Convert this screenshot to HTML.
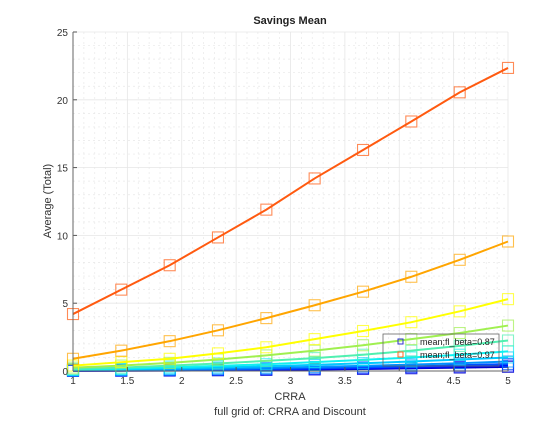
<!DOCTYPE html>
<html><head><meta charset="utf-8"><style>
body{margin:0;background:#fff;width:560px;height:420px;overflow:hidden}
svg{font-family:"Liberation Sans",sans-serif}
</style></head><body>
<svg id="chart" width="560" height="420">
<rect x="0" y="0" width="560" height="420" fill="#fff"/>
<g id="grid"></g>
<g id="series"></g>
<g id="axes"></g>
<text x="290" y="24" text-anchor="middle" font-size="11" font-weight="bold" fill="#222">Savings Mean</text>
<text x="290" y="400" text-anchor="middle" font-size="11" fill="#333">CRRA</text>
<text x="290" y="415" text-anchor="middle" font-size="11" fill="#333">full grid of: CRRA and Discount</text>
<text transform="translate(51,201) rotate(-90)" text-anchor="middle" font-size="11" fill="#333">Average (Total)</text>
<g>
<rect x="383" y="334" width="116" height="32" fill="#fff" fill-opacity="0.0" stroke="#666" stroke-width="0.8"/>
<rect x="398" y="339" width="5" height="5" fill="none" stroke="#3030d0"/>
<text x="420" y="345" font-size="9" fill="#222">mean;fl_beta=0.87</text>
<rect x="398" y="352" width="5" height="5" fill="none" stroke="#ff6a20"/>
<text x="420" y="358" font-size="9" fill="#222">mean;fl_beta=0.97</text>
</g>
</svg>
<script>
const crra=[1,1.444,1.889,2.333,2.778,3.222,3.667,4.111,4.556,5];
const betas=["0.87","0.88","0.89","0.90","0.91","0.92","0.93","0.94","0.95","0.96","0.97"];
const s087=[0.01,0.02,0.03,0.05,0.08,0.11,0.15,0.2,0.25,0.3];
const s088=[0.02,0.03,0.05,0.08,0.11,0.15,0.2,0.26,0.32,0.4];
const s089=[0.03,0.05,0.08,0.11,0.15,0.2,0.27,0.34,0.42,0.52];
const s090=[0.05,0.08,0.12,0.17,0.23,0.3,0.38,0.47,0.57,0.7];
const s091=[0.07,0.12,0.18,0.26,0.35,0.45,0.57,0.7,0.85,1.0];
const s092=[0.1,0.17,0.27,0.38,0.5,0.65,0.82,1.0,1.2,1.45];
const s093=[0.15,0.25,0.4,0.55,0.75,0.95,1.2,1.5,1.85,2.25];
const s094=[0.25,0.4,0.6,0.85,1.15,1.5,1.9,2.35,2.8,3.35];
const s095=[0.4,0.65,0.9,1.3,1.75,2.35,2.95,3.6,4.4,5.3];
const s096=[0.9,1.5,2.2,3.0,3.9,4.85,5.85,6.95,8.2,9.55];
const s097=[4.2,6.0,7.8,9.85,11.9,14.2,16.3,18.4,20.55,22.35];
const allSeries=[s087,s088,s089,s090,s091,s092,s093,s094,s095,s096,s097];
const colors=["#0000c8","#0010ff","#0050ff","#0090ff","#00c8ff","#10f0f0","#50f0b0","#a0f050","#ffff00","#ffa500","#ff5a10"];
const xTicks=[1,1.5,2,2.5,3,3.5,4,4.5,5];
const yTicks=[0,5,10,15,20,25];
const X0=73,X1=508,Y0=371,Y1=32;
const sx=v=>X0+(v-1)/4*(X1-X0);
const sy=v=>Y0-v/25*(Y0-Y1);
const NS="http://www.w3.org/2000/svg";
function mk(t,a,p){const e=document.createElementNS(NS,t);for(const k in a)e.setAttribute(k,a[k]);p.appendChild(e);return e;}
const grid=document.getElementById('grid'),axes=document.getElementById('axes'),ser=document.getElementById('series');
for(let i=0;i<=40;i++){const v=1+i*0.1;if(i%5)mk('line',{x1:sx(v),x2:sx(v),y1:Y1,y2:Y0,stroke:'#e8e8e8','stroke-dasharray':'2,3','stroke-width':0.7},grid);}
for(let v=1;v<25;v++){if(v%5)mk('line',{x1:X0,x2:X1,y1:sy(v),y2:sy(v),stroke:'#e8e8e8','stroke-dasharray':'2,3','stroke-width':0.7},grid);}
xTicks.forEach(v=>{mk('line',{x1:sx(v),x2:sx(v),y1:Y1,y2:Y0,stroke:'#e6e6e6','stroke-width':0.8},grid);
 const t=mk('text',{x:sx(v),y:Y0+13,'text-anchor':'middle','font-size':10,fill:'#333'},axes);t.textContent=v;
 
 
 mk('line',{x1:sx(v),x2:sx(v),y1:Y0,y2:Y0-4,stroke:'#555'},axes);});
yTicks.forEach(v=>{mk('line',{x1:X0,x2:X1,y1:sy(v),y2:sy(v),stroke:'#e6e6e6','stroke-width':0.8},grid);
 const t=mk('text',{x:X0-5,y:sy(v)+4,'text-anchor':'end','font-size':10,fill:'#333'},axes);t.textContent=v;
 
 
 mk('line',{x1:X0,x2:X0+4,y1:sy(v),y2:sy(v),stroke:'#555'},axes);});
mk('line',{x1:X0,x2:X0,y1:Y1,y2:Y0,stroke:'#666'},axes);
mk('line',{x1:X0,x2:X1,y1:Y0,y2:Y0,stroke:'#666'},axes);
allSeries.forEach((s,k)=>{
 const g=mk('g',{},ser);
 
 
 mk('polyline',{points:s.map((v,i)=>sx(crra[i])+','+sy(v)).join(' '),fill:'none',stroke:colors[k],'stroke-width':2},g);
 s.forEach((v,i)=>{const r=mk('rect',{x:sx(crra[i])-5.5,y:sy(v)-5.5,width:11,height:11,fill:'none',stroke:colors[k],'stroke-opacity':0.7,'stroke-width':1.1},g);
  
  });
});
</script>
</body></html>
